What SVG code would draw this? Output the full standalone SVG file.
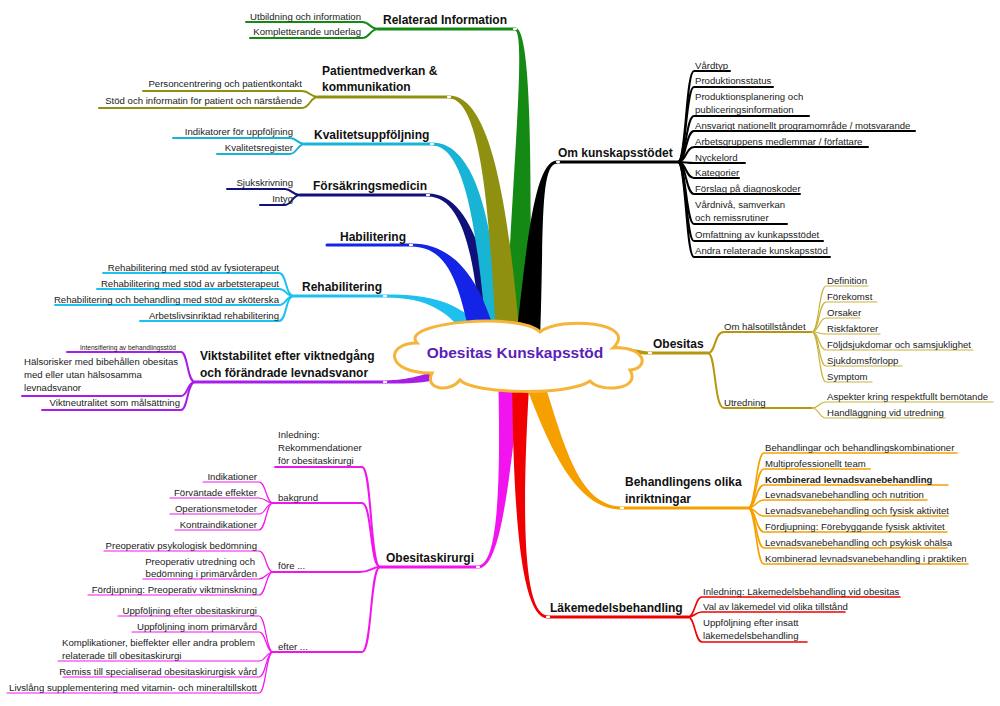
<svg xmlns="http://www.w3.org/2000/svg" width="1000" height="706" viewBox="0 0 1000 706">
<style>
.h{font-family:"Liberation Sans",Arial,sans-serif;font-weight:bold;font-size:12px;fill:#111}
.t{font-family:"Liberation Sans",Arial,sans-serif;font-size:9.6px;fill:#222}
.b{font-weight:bold}
.e{text-anchor:end}
.ln{fill:none;stroke-linecap:round;stroke-linejoin:round}
.u{stroke-width:3}
.c1{stroke-width:2}
.c2{stroke-width:1.2}
.dot{fill:#fff}
</style>
<rect width="1000" height="706" fill="#fff"/>
<g id="connectors">
  <!-- ribbons -->
  <path fill="#1ec0f0" d="M385,294.5 C432,294.5 458,302 482,328 L470,340 C448,311 428,297.5 385,297.5 Z"/>
  <path fill="#10107a" d="M428,193.5 C470,193.5 490,265 497,340 L481,340 C476,270 466,196.5 428,196.5 Z"/>
  <path fill="#18b4d6" d="M432,142.5 C478,142.5 495,230 502,340 L487,340 C478,245 468,145.5 432,145.5 Z"/>
  <path fill="#1424e6" d="M411,243.5 C458,243.5 482,285 497,340 L471,340 C460,293 452,246.5 411,246.5 Z"/>
  <path fill="#148a14" d="M515,27.5 C531,27.5 532,150 530,340 L506,340 C510,200 527,30.5 515,30.5 Z"/>
  <path fill="#8f8f10" d="M449,95.5 C490,95.5 508,200 520,340 L496,340 C490,220 482,98.5 449,98.5 Z"/>
  <path fill="#000" d="M557,160.5 C535,160.5 527,240 516,340 L540,340 C544,240 539,163.5 557,163.5 Z"/>
  <path fill="#a81ee8" d="M385,380.5 C410,380 423,375 445,367 L449,377 C427,383 410,384 385,383.5 Z"/>
  <path fill="#b8960c" d="M650,351.5 C640,351.5 630,346.5 605,345.5 L605,353.5 C630,353.5 640,354.5 650,354.5 Z"/>
  <path fill="#f214ee" d="M478,565.5 C498.5,565.5 501,480 498,370 L522,370 C509,480 501.5,568.5 478,568.5 Z"/>
  <path fill="#f00000" d="M548,618.5 C519,618.5 513,500 512,370 L530,370 C522,500 521,615.5 548,615.5 Z"/>
  <path fill="#f6a000" d="M622,506.5 C576,506 563,438 540,370 L520,370 C547,442 574,510 622,509.5 Z"/>

  <!-- header underlines -->
  <g class="ln u">
    <path stroke="#148a14" d="M378,29 L515,29"/>
    <path stroke="#8f8f10" d="M318,97 L449,97"/>
    <path stroke="#18b4d6" d="M305,144 L432,144"/>
    <path stroke="#10107a" d="M300,195 L428,195"/>
    <path stroke="#1424e6" d="M327,245 L411,245"/>
    <path stroke="#1ec0f0" d="M294,296 L385,296"/>
    <path stroke="#a81ee8" d="M195,382 L385,382"/>
    <path stroke="#000" d="M557,162 L678,162"/>
    <path stroke="#b8960c" d="M650,353 L708,353"/>
    <path stroke="#f6a000" d="M622,508 L748,508"/>
    <path stroke="#f00000" d="M548,617 L688,617"/>
    <path stroke="#f214ee" d="M380,567 L478,567"/>
  </g>

  <!-- Relaterad Information children -->
  <g class="ln c1" stroke="#148a14">
    <path d="M378,29 C370,29 370,22 362,22 L246,22"/>
    <path d="M378,29 C370,29 370,38 362,38 L250,38"/>
  </g>
  <!-- Patientmedverkan children -->
  <g class="ln c1" stroke="#8f8f10">
    <path d="M318,97 C310,97 310,91 302,91 L143,91"/>
    <path d="M318,97 C310,97 310,108 302,108 L99,108"/>
  </g>
  <!-- Kvalitetsuppfoljning children -->
  <g class="ln c1" stroke="#18b4d6">
    <path d="M305,144 C297,144 297,138 290,138 L173,138"/>
    <path d="M305,144 C297,144 297,154 290,154 L217,154"/>
  </g>
  <!-- Forsakringsmedicin children -->
  <g class="ln c1" stroke="#10107a">
    <path d="M300,195 C292,195 292,189 285,189 L227,189"/>
    <path d="M300,195 C292,195 292,205 285,205 L260,205"/>
  </g>
  <!-- Rehabilitering children -->
  <g class="ln c1" stroke="#1ec0f0">
    <path d="M294,296 C285,296 287,273 279,273 L103,273"/>
    <path d="M294,296 C285,296 287,289 279,289 L97,289"/>
    <path d="M294,296 C285,296 287,305 279,305 L55,305"/>
    <path d="M294,296 C285,296 287,321 279,321 L140,321"/>
  </g>
  <!-- Viktstabilitet children -->
  <g class="ln c1" stroke="#a81ee8">
    <path d="M195,382 C187,382 188,352 181,352 L67,352"/>
    <path d="M195,382 C187,382 188,396 181,396 L22,396"/>
    <path d="M195,382 C187,382 188,410 181,410 L42,410"/>
  </g>
  <!-- Om kunskapsstodet children -->
  <g class="ln c1" stroke="#000">
    <path d="M678,162 C686,162 686,71 694,71 L730,71"/>
    <path d="M678,162 C686,162 686,87 694,87 L773,87"/>
    <path d="M678,162 C686,162 686,116 694,116 L809,116"/>
    <path d="M678,162 C686,162 686,131 694,131 L915,131"/>
    <path d="M678,162 C686,162 686,147 694,147 L868,147"/>
    <path d="M678,162 C686,162 686,163 694,163 L745,163"/>
    <path d="M678,162 C686,162 686,178 694,178 L739,178"/>
    <path d="M678,162 C686,162 686,194 694,194 L800,194"/>
    <path d="M678,162 C686,162 686,224 694,224 L787,224"/>
    <path d="M678,162 C686,162 686,241 694,241 L823,241"/>
    <path d="M678,162 C686,162 686,257 694,257 L830,257"/>
  </g>
  <!-- Obesitas children -->
  <g class="ln c1" stroke="#b8960c">
    <path d="M708,353 C716,353 714,332 724,332 L812,332"/>
    <path d="M708,353 C716,353 714,408 724,408 L812,408"/>
  </g>
  <g class="ln c2" stroke="#c9b23c">
    <path d="M812,332 C819,332 819,286 826,286 L868,286"/>
    <path d="M812,332 C819,332 819,302 826,302 L877,302"/>
    <path d="M812,332 C819,332 819,318 826,318 L860,318"/>
    <path d="M812,332 C819,332 819,334 826,334 L880,334"/>
    <path d="M812,332 C819,332 819,350 826,350 L973,350"/>
    <path d="M812,332 C819,332 819,366 826,366 L902,366"/>
    <path d="M812,332 C819,332 819,382 826,382 L872,382"/>
    <path d="M812,408 C819,408 819,402 826,402 L993,402"/>
    <path d="M812,408 C819,408 819,418 826,418 L945,418"/>
  </g>
  <!-- Behandlingens olika inriktningar children -->
  <g class="ln" stroke="#f6a000" stroke-width="1.6">
    <path d="M748,508 C756,508 756,453 764,453 L957,453"/>
    <path d="M748,508 C756,508 756,469 764,469 L870,469"/>
    <path d="M748,508 C756,508 756,485 764,485 L948,485"/>
    <path d="M748,508 C756,508 756,500 764,500 L927,500"/>
    <path d="M748,508 C756,508 756,516 764,516 L948,516"/>
    <path d="M748,508 C756,508 756,532 764,532 L947,532"/>
    <path d="M748,508 C756,508 756,548 764,548 L947,548"/>
    <path d="M748,508 C756,508 756,564 764,564 L968,564"/>
  </g>
  <!-- Lakemedelsbehandling children -->
  <g class="ln" stroke="#f00000" stroke-width="1.6">
    <path d="M688,617 C695,617 695,597 702,597 L900,597"/>
    <path d="M688,617 C695,617 695,612 702,612 L845,612"/>
    <path d="M688,617 C695,617 695,642 702,642 L807,642"/>
  </g>
  <!-- Obesitaskirurgi children -->
  <g class="ln c1" stroke="#f214ee">
    <path d="M380,567 C370,567 372,467 362,467 L275,467"/>
    <path d="M380,567 C370,567 372,503 362,503 L273,503"/>
    <path d="M380,567 C372,567 370,572 360,572 L273,572"/>
    <path d="M380,567 C370,567 372,652 362,652 L273,652"/>
  </g>
  <g class="ln c2" stroke="#f214ee">
    <path d="M273,503 C266,503 266,482 259,482 L203,482"/>
    <path d="M273,503 C266,503 266,498 259,498 L170,498"/>
    <path d="M273,503 C266,503 266,514 259,514 L170,514"/>
    <path d="M273,503 C266,503 266,530 259,530 L175,530"/>
    <path d="M273,572 C266,572 266,551 259,551 L104,551"/>
    <path d="M273,572 C266,572 266,579 259,579 L143,579"/>
    <path d="M273,572 C266,572 266,595 259,595 L88,595"/>
    <path d="M273,652 C266,652 266,616 259,616 L118,616"/>
    <path d="M273,652 C266,652 266,632 259,632 L132,632"/>
    <path d="M273,652 C266,652 266,661 259,661 L58,661"/>
    <path d="M273,652 C266,652 266,677 259,677 L63,677"/>
    <path d="M273,652 C266,652 266,693 259,693 L7,693"/>
  </g>

  <!-- end dots -->
  <g class="dot">
    <ellipse cx="515" cy="29" rx="2.2" ry="1.3"/>
    <ellipse cx="449" cy="97" rx="2.2" ry="1.3"/>
    <ellipse cx="432" cy="144" rx="2.2" ry="1.3"/>
    <ellipse cx="428" cy="195" rx="2.2" ry="1.3"/>
    <ellipse cx="411" cy="245" rx="2.2" ry="1.3"/>
    <ellipse cx="385" cy="296" rx="2.2" ry="1.3"/>
    <ellipse cx="385" cy="382" rx="2.2" ry="1.3"/>
    <ellipse cx="558" cy="162" rx="2.2" ry="1.3"/>
    <ellipse cx="650" cy="353" rx="2.2" ry="1.3"/>
    <ellipse cx="622" cy="508" rx="2.2" ry="1.3"/>
    <ellipse cx="548" cy="617" rx="2.2" ry="1.3"/>
    <ellipse cx="478" cy="567" rx="2.2" ry="1.3"/>
  </g>
</g>

<g id="center">
  <path d="M417,343 C398,322 520,312 540,332 C560,316 640,322 613,348 C646,346 650,368 630,370 C642,390 600,393 590,381 C570,396 472,394 460,380 C450,393 424,390 432,373 C386,374 384,343 417,343 Z" fill="#fff" stroke="#f5b43a" stroke-width="3"/>
  <text x="515" y="358" text-anchor="middle" font-family="'Liberation Sans',Arial,sans-serif" font-weight="bold" font-size="15.5" fill="#5b1fb8">Obesitas Kunskapsstöd</text>
</g>

<g id="relaterad-information">
  <text class="h" x="383" y="23.5">Relaterad Information</text>
  <text class="t e" x="361" y="19.5">Utbildning och information</text>
  <text class="t e" x="361" y="34.5">Kompletterande underlag</text>
</g>

<g id="patientmedverkan">
  <text class="h" x="322" y="74.5">Patientmedverkan &amp;</text>
  <text class="h" x="322" y="91">kommunikation</text>
  <text class="t e" x="302" y="86.5">Personcentrering och patientkontakt</text>
  <text class="t e" x="302" y="103.5">Stöd och informatin för patient och närstående</text>
</g>

<g id="kvalitetsuppfoljning">
  <text class="h" x="314" y="139">Kvalitetsuppföljning</text>
  <text class="t e" x="293" y="134.5">Indikatorer för uppföljning</text>
  <text class="t e" x="293" y="150.5">Kvalitetsregister</text>
</g>

<g id="forsakringsmedicin">
  <text class="h" x="313" y="190">Försäkringsmedicin</text>
  <text class="t e" x="293" y="185.5">Sjukskrivning</text>
  <text class="t e" x="293" y="201.5">Intyg</text>
</g>

<g id="habilitering">
  <text class="h" x="340" y="240.5">Habilitering</text>
</g>

<g id="rehabilitering">
  <text class="h" x="302" y="291">Rehabilitering</text>
  <text class="t e" x="279" y="270.5">Rehabilitering med stöd av fysioterapeut</text>
  <text class="t e" x="279" y="286.5">Rehabilitering med stöd av arbetsterapeut</text>
  <text class="t e" x="279" y="302.5">Rehabilitering och behandling med stöd av sköterska</text>
  <text class="t e" x="279" y="318.5">Arbetslivsinriktad rehabilitering</text>
</g>

<g id="viktstabilitet">
  <text class="h" x="200" y="359.5">Viktstabilitet efter viktnedgång</text>
  <text class="h" x="200" y="377">och förändrade levnadsvanor</text>
  <text class="t e" x="176" y="349.5" style="font-size:6.6px">Intensifiering av behandlingsstöd</text>
  <text class="t" x="24" y="365">Hälsorisker med bibehållen obesitas</text>
  <text class="t" x="24" y="378">med eller utan hälsosamma</text>
  <text class="t" x="24" y="391">levnadsvanor</text>
  <text class="t e" x="180" y="406">Viktneutralitet som målsättning</text>
</g>

<g id="om-kunskapsstodet">
  <text class="h" x="558" y="157">Om kunskapsstödet</text>
  <text class="t" x="695" y="68.5">Vårdtyp</text>
  <text class="t" x="695" y="84">Produktionsstatus</text>
  <text class="t" x="695" y="100">Produktionsplanering och</text>
  <text class="t" x="695" y="112.5">publiceringsinformation</text>
  <text class="t" x="695" y="128.5">Ansvarigt nationellt programområde / motsvarande</text>
  <text class="t" x="695" y="144.5">Arbetsgruppens medlemmar / författare</text>
  <text class="t" x="695" y="160.5">Nyckelord</text>
  <text class="t" x="695" y="176">Kategorier</text>
  <text class="t" x="695" y="191.5">Förslag på diagnoskoder</text>
  <text class="t" x="695" y="208">Vårdnivå, samverkan</text>
  <text class="t" x="695" y="221">och remissrutiner</text>
  <text class="t" x="695" y="237.5">Omfattning av kunkapsstödet</text>
  <text class="t" x="695" y="253.5">Andra relaterade kunskapsstöd</text>
</g>

<g id="obesitas">
  <text class="h" x="653" y="348">Obesitas</text>
  <text class="t" x="724" y="329.5">Om hälsotillståndet</text>
  <text class="t" x="724" y="405.5">Utredning</text>
  <text class="t" x="827" y="283.5">Definition</text>
  <text class="t" x="827" y="299.5">Förekomst</text>
  <text class="t" x="827" y="315.5">Orsaker</text>
  <text class="t" x="827" y="331.5">Riskfaktorer</text>
  <text class="t" x="827" y="347.5">Följdsjukdomar och samsjuklighet</text>
  <text class="t" x="827" y="363.5">Sjukdomsförlopp</text>
  <text class="t" x="827" y="379.5">Symptom</text>
  <text class="t" x="827" y="399.5">Aspekter kring respektfullt bemötande</text>
  <text class="t" x="827" y="415.5">Handläggning vid utredning</text>
</g>

<g id="behandlingens-olika-inriktningar">
  <text class="h" x="625" y="486">Behandlingens olika</text>
  <text class="h" x="625" y="503">inriktningar</text>
  <text class="t" x="765" y="450.5">Behandlingar och behandlingskombinationer</text>
  <text class="t" x="765" y="466.5">Multiprofessionellt team</text>
  <text class="t b" x="765" y="482.5">Kombinerad levnadsvanebehandling</text>
  <text class="t" x="765" y="497.5">Levnadsvanebehandling och nutrition</text>
  <text class="t" x="765" y="513.5">Levnadsvanebehandling och fysisk aktivitet</text>
  <text class="t" x="765" y="529.5">Fördjupning: Förebyggande fysisk aktivitet</text>
  <text class="t" x="765" y="545.5">Levnadsvanebehandling och psykisk ohälsa</text>
  <text class="t" x="765" y="561.5">Kombinerad levnadsvanebehandling i praktiken</text>
</g>

<g id="lakemedelsbehandling">
  <text class="h" x="550" y="612">Läkemedelsbehandling</text>
  <text class="t" x="703" y="594.5">Inledning: Läkemedelsbehandling vid obesitas</text>
  <text class="t" x="703" y="609.5">Val av läkemedel vid olika tillstånd</text>
  <text class="t" x="703" y="626">Uppföljning efter insatt</text>
  <text class="t" x="703" y="638.5">läkemedelsbehandling</text>
</g>

<g id="obesitaskirurgi">
  <text class="h" x="386" y="562">Obesitaskirurgi</text>
  <text class="t" x="278" y="437.5">Inledning:</text>
  <text class="t" x="278" y="450.5">Rekommendationer</text>
  <text class="t" x="278" y="463.5">för obesitaskirurgi</text>
  <text class="t" x="278" y="500.5">bakgrund</text>
  <text class="t e" x="257" y="479.5">Indikationer</text>
  <text class="t e" x="257" y="495.5">Förväntade effekter</text>
  <text class="t e" x="257" y="511.5">Operationsmetoder</text>
  <text class="t e" x="257" y="527.5">Kontraindikationer</text>
  <text class="t" x="278" y="568.5">före ...</text>
  <text class="t e" x="257" y="548.5">Preoperativ psykologisk bedömning</text>
  <text class="t e" x="255" y="564.5">Preoperativ utredning och</text>
  <text class="t e" x="257" y="577">bedömning i primärvården</text>
  <text class="t e" x="257" y="593">Fördjupning: Preoperativ viktminskning</text>
  <text class="t" x="278" y="649.5">efter ...</text>
  <text class="t e" x="257" y="614">Uppföljning efter obesitaskirurgi</text>
  <text class="t e" x="257" y="629.5">Uppföljning inom primärvård</text>
  <text class="t" x="62" y="645.5">Komplikationer, bieffekter eller andra problem</text>
  <text class="t" x="62" y="658.5">relaterade till obesitaskirurgi</text>
  <text class="t e" x="257" y="674.5">Remiss till specialiserad obesitaskirurgisk vård</text>
  <text class="t e" x="257" y="690.5">Livslång supplementering med vitamin- och mineraltillskott</text>
</g>
</svg>
